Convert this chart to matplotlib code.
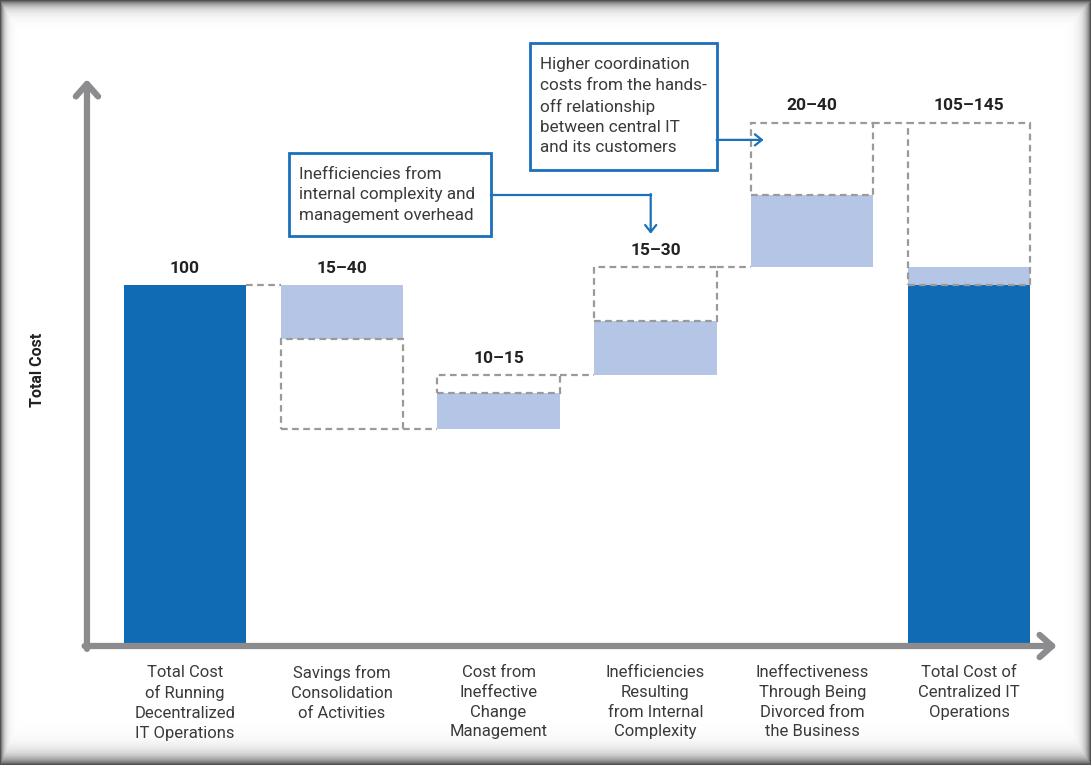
import numpy as np
import matplotlib
matplotlib.use("Agg")
import matplotlib.pyplot as plt
from matplotlib.patches import Rectangle

plt.rcParams['font.family'] = ['Roboto', 'DejaVu Sans']

categories = [
    "Total Cost\nof Running\nDecentralized\nIT Operations",
    "Savings from\nConsolidation\nof Activities",
    "Cost from\nIneffective\nChange\nManagement",
    "Inefficiencies\nResulting\nfrom Internal\nComplexity",
    "Ineffectiveness\nThrough Being\nDivorced from\nthe Business",
    "Total Cost of\nCentralized IT\nOperations",
]
range_labels = ["100", "15\u201340", "10\u201315", "15\u201330", "20\u201340", "105\u2013145"]
base_cost = 100
# change ranges for the middle steps (low, high)
low_change = [-15, 10, 15, 20]
high_change = [-40, 15, 30, 40]
final_range = (105, 145)

DARK = '#106ab4'
LIGHT = '#b5c5e5'
DASH = '#9a9a9a'
AXIS = '#8c8c8f'
NOTE = '#1b70bb'
TXT = '#3a3a3a'

fig = plt.figure(figsize=(10.91, 7.65), dpi=100)

# shaded frame around the whole figure
bg = fig.add_axes([0, 0, 1, 1], zorder=-5)
H, W = 765, 1091
yy, xx = np.mgrid[0:H, 0:W]
dark = np.maximum.reduce([
    np.exp(-yy / 6.0),
    np.exp(-(H - 1 - yy) / 8.0),
    np.exp(-xx / 3.5),
    np.exp(-(W - 1 - xx) / 5.0),
])
shade = 1 - 0.68 * dark
bg.imshow(shade, cmap='gray', vmin=0, vmax=1, aspect='auto', interpolation='bilinear')
bg.axis('off')

ax = fig.add_axes([60 / 1091, 119 / 765, 1010 / 1091, 616 / 765])
ax.set_facecolor('none')
ax.set_xlim(-0.797, 5.644)
ax.set_ylim(0, 616 / 3.61)
for s in ax.spines.values():
    s.set_visible(False)
ax.set_yticks([])

w = 0.78
dash_kw = dict(fill=False, edgecolor=DASH, linestyle=(0, (3, 2)), linewidth=1.6, zorder=3)


def conn(i, level):
    ax.plot([i + w / 2, i + 1 - w / 2], [level, level], color=DASH,
            linestyle=(0, (3, 2)), linewidth=1.6, zorder=3)


# first total bar
ax.bar(0, base_cost, width=w, color=DARK, zorder=2)
tops = [base_cost]
level = base_cost
for k in range(len(low_change)):
    i = k + 1
    lo = level + low_change[k]
    hi = level + high_change[k]
    ax.bar(i, lo - level, bottom=level, width=w, color=LIGHT, zorder=2)
    ax.add_patch(Rectangle((i - w / 2, min(lo, hi)), w, abs(hi - lo), **dash_kw))
    conn(i - 1, level)
    tops.append(max(level, hi))
    level = hi
conn(4, level)

# final total bar
ax.bar(5, base_cost, width=w, color=DARK, zorder=2)
ax.bar(5, final_range[0] - base_cost, bottom=base_cost, width=w, color=LIGHT, zorder=2)
ax.add_patch(Rectangle((5 - w / 2, base_cost), w, final_range[1] - base_cost, **dash_kw))
tops.append(final_range[1])

for i, (lab, t) in enumerate(zip(range_labels, tops)):
    ax.annotate(lab, (i, t), xytext=(0, 12), textcoords='offset points',
                ha='center', va='center', fontsize=12.5, fontweight='bold', color='#222222')

# axes drawn as thick arrows
ax.annotate('', xy=(-0.625, 157), xytext=(-0.625, -0.8),
            arrowprops=dict(arrowstyle='->,head_length=0.9,head_width=0.8', lw=4.5,
                            color=AXIS, shrinkA=0, shrinkB=0), annotation_clip=False)
ax.annotate('', xy=(5.56, 0), xytext=(-0.64, 0),
            arrowprops=dict(arrowstyle='->,head_length=0.9,head_width=0.8', lw=4.5,
                            color=AXIS, shrinkA=0, shrinkB=0), annotation_clip=False)

ax.set_xticks(range(len(categories)))
ax.set_xticklabels(categories, fontsize=12, color=TXT, linespacing=1.38)
ax.tick_params(axis='x', length=0, pad=14)

fig.text(38 / 1091, 1 - 370 / 765, "Total Cost", rotation=90, ha='center', va='center',
         fontsize=11.5, fontweight='bold', color='#222222')

# callout boxes
ax.add_patch(Rectangle((0.663, 113.6), 1.287, 23.0, fill=False, edgecolor=NOTE,
                       linewidth=2, zorder=4, clip_on=False))
ax.text(0.725, 125.0, "Inefficiencies from\ninternal complexity and\nmanagement overhead",
        ha='left', va='center', fontsize=12.3, color=TXT, linespacing=1.45, zorder=5)
ax.plot([1.95, 2.97], [124.9, 124.9], color=NOTE, lw=1.6, zorder=4)
ax.annotate('', xy=(2.97, 114.2), xytext=(2.97, 125.2),
            arrowprops=dict(arrowstyle='->,head_length=0.5,head_width=0.4', lw=1.6,
                            color=NOTE, shrinkA=0, shrinkB=0))

ax.add_patch(Rectangle((2.20, 131.9), 1.19, 35.2, fill=False, edgecolor=NOTE,
                       linewidth=2, zorder=4, clip_on=False))
ax.text(2.265, 149.5, "Higher coordination\ncosts from the hands-\noff relationship\nbetween central IT\nand its customers",
        ha='left', va='center', fontsize=12.3, color=TXT, linespacing=1.45, zorder=5)
ax.annotate('', xy=(3.69, 140.2), xytext=(3.39, 140.2),
            arrowprops=dict(arrowstyle='->,head_length=0.5,head_width=0.4', lw=1.6,
                            color=NOTE, shrinkA=0, shrinkB=0))

fig.savefig('out.png', dpi=100)
